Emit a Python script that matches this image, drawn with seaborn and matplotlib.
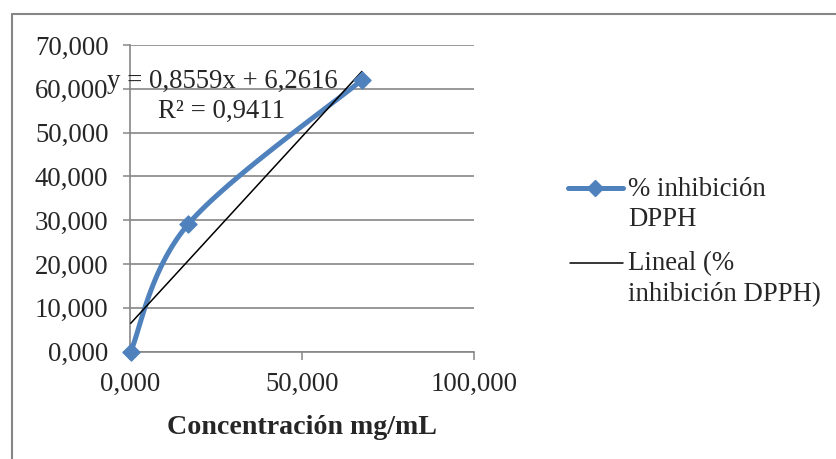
import numpy as np
import pandas as pd
import matplotlib
matplotlib.use("Agg")
import matplotlib.pyplot as plt
import seaborn as sns
from matplotlib.lines import Line2D

# ---- data ----
conc = [0.2, 16.9, 67.4]          # Concentración mg/mL
inhib = [0.0, 29.06, 62.0]        # % inhibición DPPH
slope = 0.8559
intercept = 6.2616
r2 = 0.9411
y_ticks = [0, 10, 20, 30, 40, 50, 60, 70]
x_ticks = [0, 50, 100]
series_label = ["% inhibición", "DPPH"]
trend_label = ["Lineal (%", "inhibición DPPH)"]
eq_lines = ["y = 0,8559x + 6,2616", "R² = 0,9411"]
xlabel = "Concentración mg/mL"

def fmt(v):
    return f"{v:,.3f}".replace(",", " ").replace(".", ",")

sns.set_style("white")
plt.rcParams['font.family'] = ['Liberation Serif', 'DejaVu Serif']

W, H = 837, 459
fig = plt.figure(figsize=(W / 100, H / 100), dpi=100)
grey = "#868686"
blue = "#4F81BD"
FS = 19.3

ax = fig.add_axes([130 / W, 1 - 351.5 / H, 344 / W, 306.5 / H])
ax.set_xlim(0, 100)
ax.set_ylim(0, 70)

# Excel-like smoothed line (Catmull-Rom bezier in display space)
pts = ax.transData.transform(np.column_stack([conc, inhib]))
n = len(pts)
curve = []
for i in range(n - 1):
    p0 = pts[max(i - 1, 0)]
    p1 = pts[i]
    p2 = pts[i + 1]
    p3 = pts[min(i + 2, n - 1)]
    c1 = p1 + (p2 - p0) / 6
    c2 = p2 - (p3 - p1) / 6
    t = np.linspace(0, 1, 60)[:, None]
    seg = ((1 - t) ** 3) * p1 + 3 * t * (1 - t) ** 2 * c1 + 3 * t ** 2 * (1 - t) * c2 + t ** 3 * p2
    curve.append(seg if i == 0 else seg[1:])
curve = ax.transData.inverted().transform(np.vstack(curve))
df_curve = pd.DataFrame({"x": curve[:, 0], "y": curve[:, 1]})

tx = np.array([min(conc), max(conc)])
df_trend = pd.DataFrame({"x": tx, "y": slope * tx + intercept})

sns.lineplot(data=df_curve, x="x", y="y", sort=False, estimator=None,
             color=blue, lw=3.6, ax=ax, zorder=3)
sns.lineplot(data=df_trend, x="x", y="y", sort=False, estimator=None,
             color="black", lw=1.1, ax=ax, zorder=4)
sns.scatterplot(x=conc, y=inhib, marker="D", s=75, color=blue,
                edgecolor=blue, linewidth=1, ax=ax, zorder=5)
for c in ax.collections:
    c.set_clip_on(False)

ax.set_xlim(0, 100)
ax.set_ylim(0, 70)
ax.set_yticks(y_ticks)
ax.set_yticklabels([fmt(v) for v in y_ticks])
ax.set_xticks(x_ticks)
ax.set_xticklabels([fmt(v) for v in x_ticks])
ax.tick_params(axis="y", length=5, width=1.1, color=grey, pad=10.5,
               labelsize=FS, left=True, direction="out")
ax.tick_params(axis="x", length=6, width=1.1, color=grey, pad=9,
               labelsize=FS, bottom=True, direction="out")
ax.yaxis.grid(True, color=grey, lw=1.2)
ax.xaxis.grid(False)
for s in ["top", "right"]:
    ax.spines[s].set_visible(False)
for s in ["left", "bottom"]:
    ax.spines[s].set_color(grey)
    ax.spines[s].set_linewidth(1.2)
ax.set_axisbelow(True)
ax.set_xlabel(xlabel, fontsize=20.2, fontweight="bold", va="center")
ax.xaxis.set_label_coords(0.5, (351.5 - 428) / 306.5)
ax.set_ylabel("")

# trendline equation
fig.text(222 / W, 1 - 88 / H, eq_lines[0], ha="center", va="baseline", fontsize=FS)
fig.text(222 / W, 1 - 118 / H, eq_lines[1], ha="center", va="baseline", fontsize=FS)

# legend (Excel-style, handle aligned to first text line)
fig.add_artist(Line2D([568 / W, 623 / W], [1 - 188 / H, 1 - 188 / H], color=blue,
                      lw=3.6, solid_capstyle="round"))
fig.add_artist(Line2D([595 / W], [1 - 188 / H], color=blue, marker="D",
                      markersize=8, lw=0))
fig.text(628 / W, 1 - 196.5 / H, series_label[0], ha="left", va="baseline", fontsize=FS)
fig.text(628 / W, 1 - 226.5 / H, series_label[1], ha="left", va="baseline", fontsize=FS)
fig.add_artist(Line2D([570 / W, 623 / W], [1 - 263 / H, 1 - 263 / H], color="black", lw=1.1))
fig.text(628 / W, 1 - 270.5 / H, trend_label[0], ha="left", va="baseline", fontsize=FS)
fig.text(628 / W, 1 - 301.5 / H, trend_label[1], ha="left", va="baseline", fontsize=FS)

# outer chart frame
fig.add_artist(Line2D([12 / W, 12 / W], [0, 1 - 14 / H], color=grey, lw=1.5))
fig.add_artist(Line2D([12 / W, 1], [1 - 14 / H, 1 - 14 / H], color=grey, lw=1.5))

fig.savefig("out.png", dpi=100)
